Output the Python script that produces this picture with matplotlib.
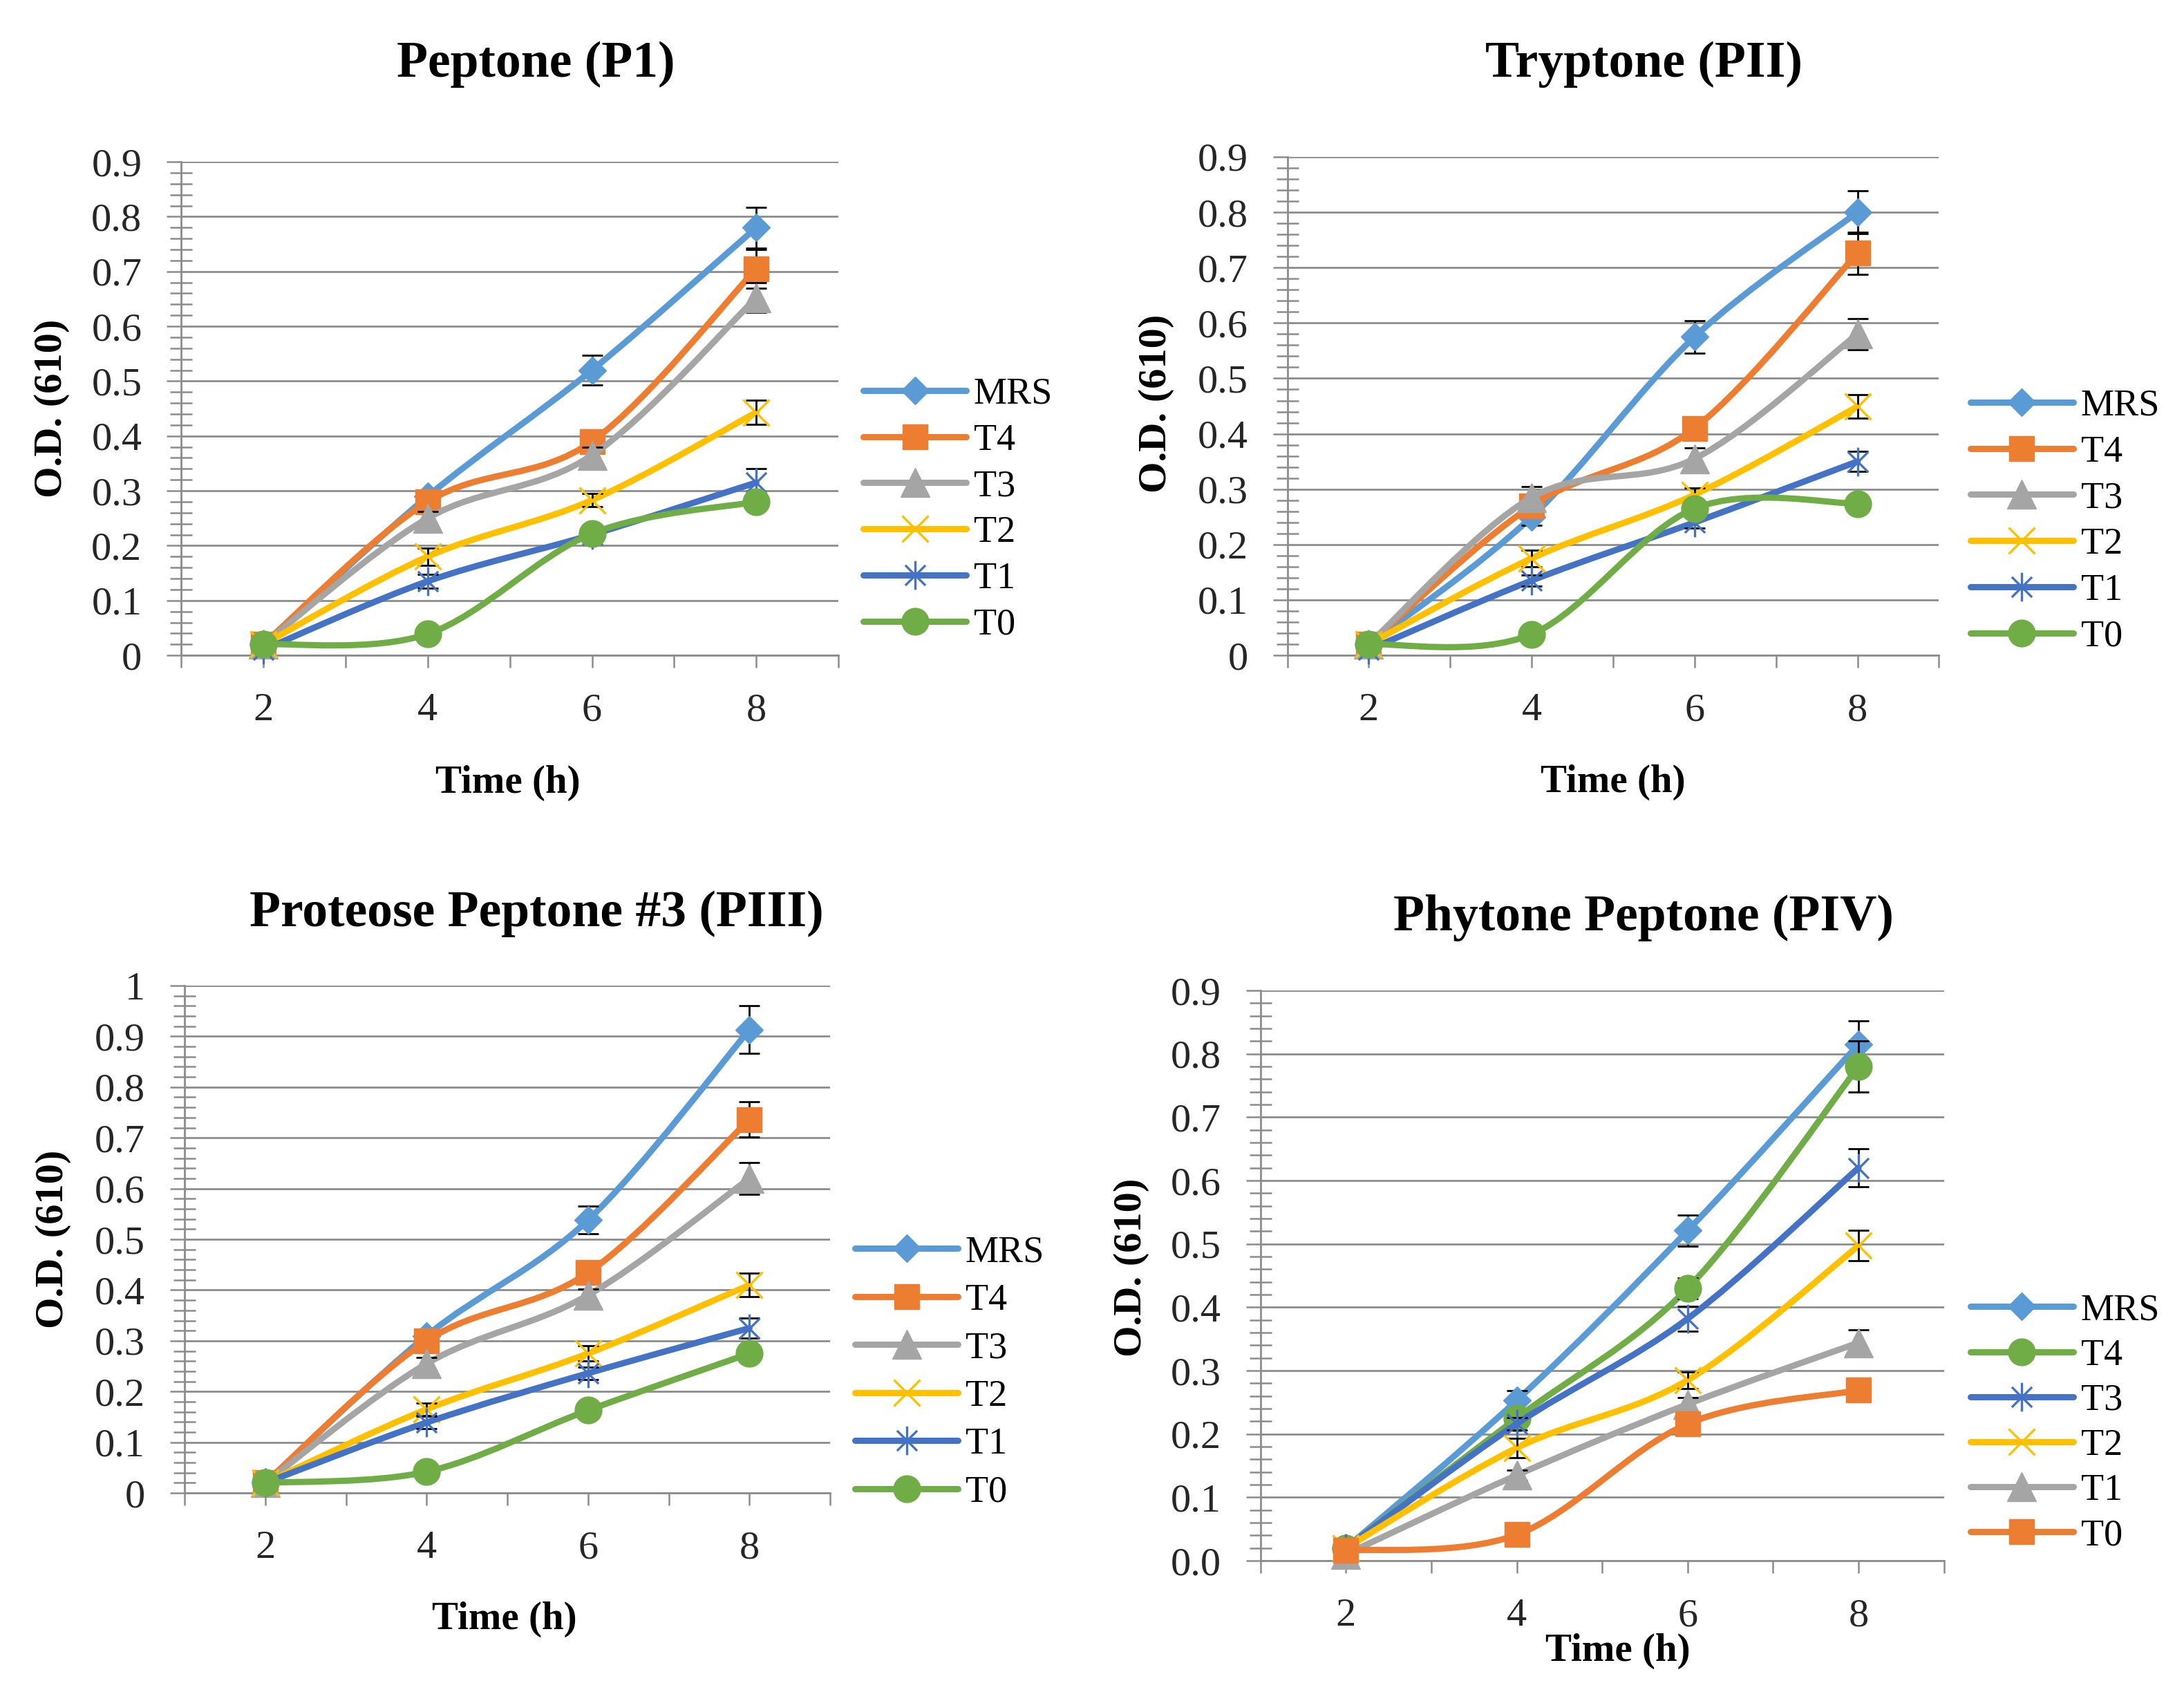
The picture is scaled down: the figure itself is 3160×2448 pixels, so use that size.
import numpy as np
import matplotlib.pyplot as plt
from matplotlib.path import Path
from matplotlib.patches import PathPatch
from matplotlib.lines import Line2D
from matplotlib.ticker import FuncFormatter

plt.rcParams['font.family'] = ['Liberation Serif', 'DejaVu Serif']

hours = [2, 4, 6, 8]
series = ['MRS', 'T4', 'T3', 'T2', 'T1', 'T0']

# Peptone (P1)
p1_od = [[0.02, 0.29, 0.52, 0.78],
         [0.02, 0.28, 0.39, 0.705],
         [0.02, 0.25, 0.365, 0.652],
         [0.02, 0.18, 0.283, 0.443],
         [0.01, 0.135, 0.22, 0.315],
         [0.02, 0.039, 0.222, 0.28]]
p1_err = [[0.005, 0.01, 0.027, 0.037],
          [0.005, 0.012, 0.015, 0.035],
          [0.005, 0.012, 0.015, 0.027],
          [0.005, 0.016, 0.012, 0.022],
          [0.005, 0.012, 0.01, 0.025],
          [0.003, 0.005, 0.01, 0.01]]

# Tryptone (PII)
p2_od = [[0.02, 0.25, 0.575, 0.80],
         [0.02, 0.27, 0.41, 0.726],
         [0.02, 0.285, 0.355, 0.58],
         [0.02, 0.175, 0.29, 0.449],
         [0.01, 0.135, 0.24, 0.35],
         [0.02, 0.038, 0.265, 0.274]]
p2_err = [[0.005, 0.015, 0.029, 0.039],
          [0.005, 0.015, 0.015, 0.038],
          [0.005, 0.02, 0.02, 0.028],
          [0.005, 0.015, 0.012, 0.021],
          [0.005, 0.01, 0.01, 0.018],
          [0.003, 0.005, 0.012, 0.01]]

# Proteose Peptone #3 (PIII)
p3_od = [[0.02, 0.31, 0.538, 0.913],
         [0.02, 0.30, 0.434, 0.736],
         [0.02, 0.255, 0.39, 0.62],
         [0.02, 0.165, 0.275, 0.41],
         [0.02, 0.139, 0.236, 0.325],
         [0.02, 0.042, 0.163, 0.275]]
p3_err = [[0.005, 0.012, 0.027, 0.047],
          [0.005, 0.015, 0.012, 0.035],
          [0.005, 0.012, 0.012, 0.031],
          [0.005, 0.012, 0.015, 0.023],
          [0.005, 0.012, 0.012, 0.02],
          [0.003, 0.005, 0.008, 0.015]]

# Phytone Peptone (PIV)
p4_od = [[0.02, 0.253, 0.521, 0.815],
         [0.02, 0.225, 0.43, 0.78],
         [0.02, 0.216, 0.382, 0.62],
         [0.02, 0.178, 0.285, 0.497],
         [0.01, 0.135, 0.247, 0.344],
         [0.016, 0.041, 0.216, 0.269]]
p4_err = [[0.005, 0.015, 0.025, 0.037],
          [0.005, 0.01, 0.016, 0.04],
          [0.005, 0.01, 0.02, 0.03],
          [0.005, 0.015, 0.013, 0.024],
          [0.005, 0.008, 0.01, 0.02],
          [0.003, 0.005, 0.008, 0.008]]

# excel style markers
star = Path([(0, -1), (0, 1), (-0.7, -0.7), (0.7, 0.7), (-0.7, 0.7), (0.7, -0.7)],
            [Path.MOVETO, Path.LINETO] * 3)
BLUE = ('#5B9BD5', 'D', 20)
ORANGE = ('#ED7D31', 's', 26)
GRAY = ('#A5A5A5', '^', 30)
GOLD = ('#FFC000', 'x', 28)
DBLUE = ('#4472C4', star, 30)
GREEN = ('#70AD47', 'o', 28)
styles_a = [BLUE, ORANGE, GRAY, GOLD, DBLUE, GREEN]
styles_b = [BLUE, GREEN, DBLUE, GOLD, GRAY, ORANGE]

GRID = '#8c8c8c'
LW = 6.5


def smooth_path(xs, ys):
    pts = np.column_stack([xs, ys]).astype(float)
    n = len(pts)
    verts = [pts[0]]
    codes = [Path.MOVETO]
    for i in range(n - 1):
        prev = pts[max(i - 1, 0)]
        nxt = pts[min(i + 2, n - 1)]
        c1 = pts[i] + (pts[i + 1] - prev) / 6
        c2 = pts[i + 1] - (nxt - pts[i]) / 6
        verts += [c1, c2, pts[i + 1]]
        codes += [Path.CURVE4] * 3
    return Path(verts, codes)


def marker_kw(color, marker, ms):
    if marker == 'x' or isinstance(marker, Path):
        return dict(marker=marker, markersize=ms, markerfacecolor='none',
                    markeredgecolor=color, markeredgewidth=2.4)
    return dict(marker=marker, markersize=ms, markerfacecolor=color,
                markeredgecolor=color, markeredgewidth=1)


def draw_panel(rect, title, title_pos, od, err, styles, ytop, yfmt,
               xlab_pos, ylab_pos, leg_pos, leg_space):
    ax = fig.add_axes(rect)
    handles = []
    for k, (vals, e, (color, marker, ms), name) in enumerate(zip(od, err, styles, series)):
        z = 3 + 0.1 * k
        patch = PathPatch(smooth_path(hours, vals), facecolor='none', edgecolor=color,
                          linewidth=LW, capstyle='round', joinstyle='round', zorder=z)
        ax.add_patch(patch)
        ax.errorbar(hours, vals, yerr=e, fmt='none', ecolor='black', elinewidth=2,
                    capsize=11, capthick=2, zorder=z + 0.03)
        ax.plot(hours, vals, linestyle='none', clip_on=False, zorder=z + 0.06,
                **marker_kw(color, marker, ms))
        handles.append(Line2D([], [], color=color, linewidth=LW,
                              solid_capstyle='round', label=name,
                              **marker_kw(color, marker, ms)))

    ax.set_xlim(1, 9)
    ax.set_ylim(0, ytop)
    ax.set_xticks([2, 4, 6, 8])
    ax.set_xticks([1, 3, 5, 7, 9], minor=True)
    ax.set_yticks(np.arange(0, ytop + 0.001, 0.1))
    ax.set_yticks(np.arange(0, ytop, 0.02), minor=True)
    ax.yaxis.set_major_formatter(FuncFormatter(yfmt))
    ax.tick_params(axis='x', which='both', direction='out', length=13, width=1.8,
                   color=GRID, labelsize=42, labelcolor='#262626', pad=26)
    ax.tick_params(axis='y', which='major', direction='out', length=15, width=1.8,
                   color=GRID, labelsize=42, labelcolor='#262626', pad=26)
    ax.tick_params(axis='y', which='minor', direction='inout', length=23, width=1.8,
                   color=GRID)
    ax.grid(axis='y', which='major', color=GRID, linewidth=2)
    ax.set_axisbelow(True)
    for side in ['top', 'right']:
        ax.spines[side].set_visible(False)
    for side in ['left', 'bottom']:
        ax.spines[side].set_color(GRID)
        ax.spines[side].set_linewidth(2)

    ax.set_xlabel('Time (h)', fontsize=41, fontweight='bold', va='center')
    ax.xaxis.set_label_coords(*xlab_pos)
    ax.set_ylabel('O.D. (610)', fontsize=42, fontweight='bold', va='center')
    ax.yaxis.set_label_coords(*ylab_pos)
    ax.text(title_pos[0], title_pos[1], title, transform=ax.transAxes, ha='center',
            va='baseline', fontsize=53, fontweight='bold')
    ax.legend(handles=handles, loc='center left', bbox_to_anchor=leg_pos,
              bbox_transform=fig.transFigure, frameon=False, fontsize=39,
              handlelength=2.75, handletextpad=0.2, borderpad=0, borderaxespad=0,
              labelspacing=leg_space)
    return ax


fig = plt.figure(figsize=(31.6, 24.48), dpi=100)

plain = lambda v, pos: f'{v:g}'
onedp = lambda v, pos: f'{v:.1f}'

draw_panel([0.0830, 0.6127, 0.3009, 0.2917], 'Peptone (P1)', (0.54, 1.172),
           p1_od, p1_err, styles_a, 0.9, plain,
           (0.497, -0.259), (-0.197, 0.5), (0.3953, 0.6987), 0.3)
draw_panel([0.5894, 0.6127, 0.2984, 0.2946], 'Tryptone (PII)', (0.547, 1.161),
           p2_od, p2_err, styles_a, 0.9, plain,
           (0.5, -0.255), (-0.2015, 0.505), (0.9022, 0.6918), 0.3)
draw_panel([0.0845, 0.1176, 0.2956, 0.2999], 'Proteose Peptone #3 (PIII)', (0.545, 1.117),
           p3_od, p3_err, styles_a, 1.0, plain,
           (0.495, -0.249), (-0.203, 0.5), (0.3915, 0.1889), 0.35)
draw_panel([0.5771, 0.0776, 0.3130, 0.3370], 'Phytone Peptone (PIV)', (0.56, 1.105),
           p4_od, p4_err, styles_b, 0.9, onedp,
           (0.523, -0.159), (-0.189, 0.514), (0.9022, 0.1589), 0.27)

fig.savefig('out.png', dpi=100)
